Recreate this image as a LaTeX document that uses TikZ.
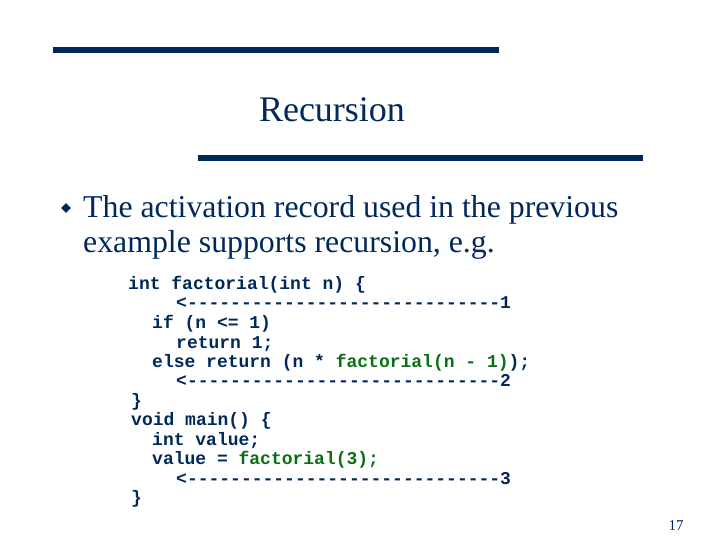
\documentclass[tikz,border=0pt]{standalone}
\usepackage{fontspec}
\setmainfont{Liberation Serif}
\setmonofont{Liberation Mono}
\usepackage{xcolor}
\usetikzlibrary{positioning,shapes.geometric}
\definecolor{navy}{RGB}{0,40,90}
\definecolor{codegreen}{RGB}{10,110,20}

\begin{document}
\begin{tikzpicture}[x=1pt,y=1pt]

	\tikzset{barstyle/.style={fill=navy,draw=none}}
	\tikzset{codestyle/.style={anchor=base west,inner sep=0pt,text=navy,font=\fontsize{18}{19}\selectfont\ttfamily\bfseries}}
	\tikzset{textstyle/.style={anchor=base west,inner sep=0pt,text=navy,font=\fontsize{31.8}{34}\selectfont}}

	\newcommand\green[1]{\textcolor{codegreen}{#1}}
	\newcommand\codeLine[4] % {name}{x}{y}{text}
	{
		\node[codestyle] at (#2,540-#3-6) (#1) {#4};
	}

	\useasboundingbox (0,0) rectangle (720,540);

	% title and bars
	\fill[barstyle] (53,540-47) rectangle (499,540-53);
	\fill[barstyle] (198,540-155) rectangle (643,540-161);
	\node[text=navy,font=\fontsize{36}{38}\selectfont] at (332,540-110) (title) {Recursion};

	% bullet
	\node[diamond,fill=navy,inner sep=0pt,minimum size=10pt] at (66,540-208) (bullet) {};
	\node[textstyle] at (83,540-218) (line1) {The activation record used in the previous};
	\node[textstyle] at (83,540-253) (line2) {example supports recursion, e.g.};

	% code
	\codeLine{c1}{128}{284}{int factorial(int n) \{}
	\codeLine{c2}{176}{303}{<-----------------------------1}
	\codeLine{c3}{152}{323}{if (n <= 1)}
	\codeLine{c4}{176}{343}{return 1;}
	\codeLine{c5}{152}{362}{else return (n * \green{factorial(n - 1)});}
	\codeLine{c6}{176}{381}{<-----------------------------2}
	\codeLine{c7}{131}{401}{\}}
	\codeLine{c8}{131}{420}{void main() \{}
	\codeLine{c9}{152}{440}{int value;}
	\codeLine{c10}{152}{459}{value = \green{factorial(3);}}
	\codeLine{c11}{176}{479}{<-----------------------------3}
	\codeLine{c12}{131}{498}{\}}

	% page number
	\node[text=navy,font=\fontsize{15}{17}\selectfont] at (676,540-526) (page) {17};
\end{tikzpicture}
\end{document}
